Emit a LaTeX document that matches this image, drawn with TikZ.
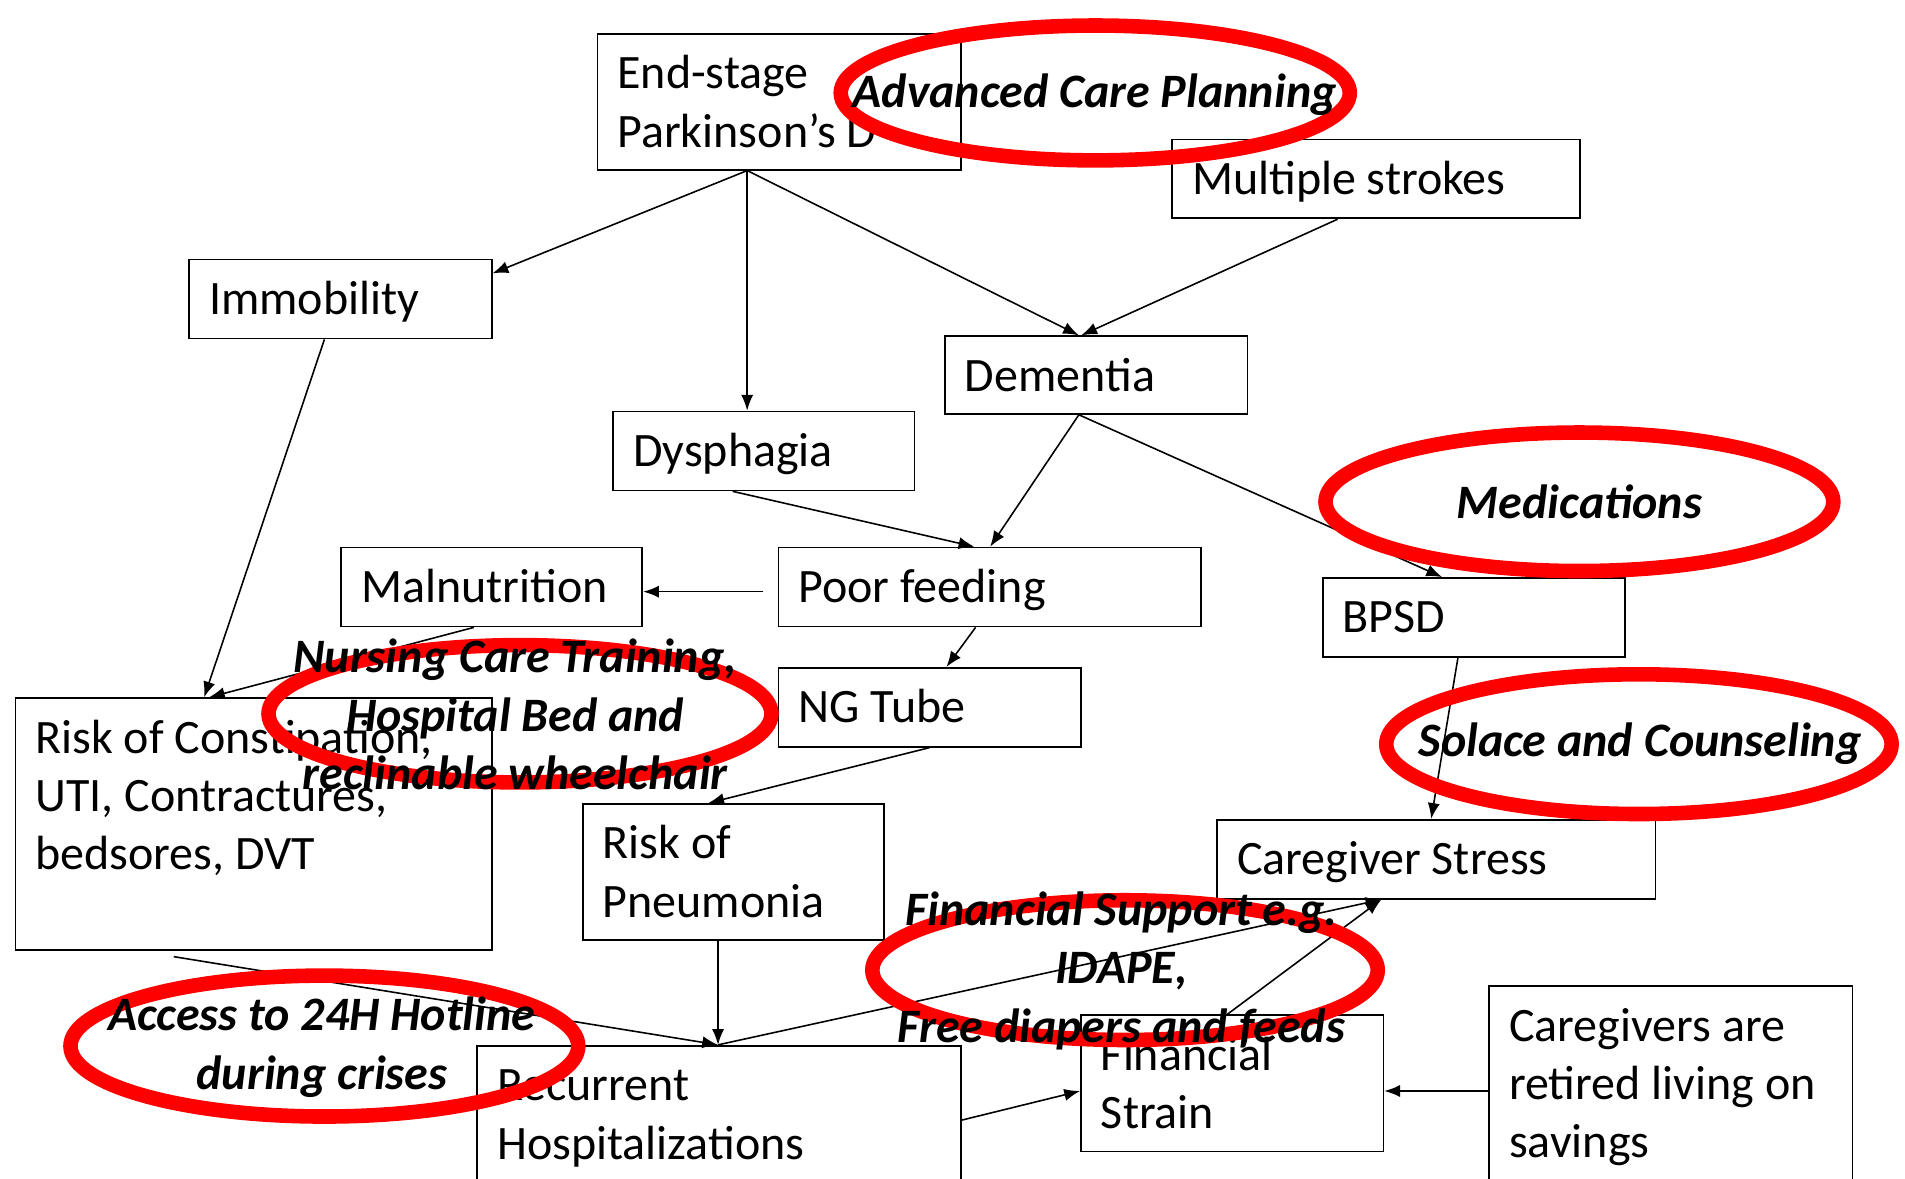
\documentclass[tikz,border=0pt]{standalone}
\usepackage{fontspec}
\setmainfont{Carlito}
\usetikzlibrary{arrows.meta,calc,shapes.geometric}
\definecolor{ringred}{RGB}{255,0,0}
\begin{document}
\begin{tikzpicture}[x=1pt,y=-1pt,
  box/.style={draw=black, line width=1.4pt, rectangle, inner sep=0pt, anchor=north west},
  btxt/.style={anchor=base west, inner sep=0pt, align=left, font=\fontsize{39.5}{48}\selectfont},
  ring/.style={draw=ringred, line width=12pt, ellipse, inner sep=0pt},
  ltxt/.style={align=center, inner sep=0pt, font=\fontsize{39.5}{48}\selectfont\bfseries\itshape},
  arr/.style={line width=1.3pt, -{Latex[length=13pt,width=10pt]}}
]
\fill[white] (0,0) rectangle (1568,970);
\useasboundingbox (0,0) rectangle (1568,970);

% boxes
\node[box, minimum width=299pt, minimum height=112pt] (esp) at (491,27) {};
\node[box, minimum width=336pt, minimum height=65pt] (ms) at (964,114) {};
\node[box, minimum width=249pt, minimum height=65pt] (imm) at (155,213) {};
\node[box, minimum width=249pt, minimum height=64pt] (dem) at (777,276) {};
\node[box, minimum width=248pt, minimum height=65pt] (dys) at (504,338) {};
\node[box, minimum width=248pt, minimum height=65pt] (mal) at (280,450) {};
\node[box, minimum width=348pt, minimum height=65pt] (pf) at (640,450) {};
\node[box, minimum width=249pt, minimum height=65pt] (bpsd) at (1088,475) {};
\node[box, minimum width=249pt, minimum height=65pt] (ng) at (640,549) {};
\node[box, minimum width=392pt, minimum height=207pt] (rc) at (12,574) {};
\node[box, minimum width=248pt, minimum height=112pt] (rp) at (479,661) {};
\node[box, minimum width=361pt, minimum height=65pt] (cs) at (1001,674) {};
\node[box, minimum width=398pt, minimum height=130pt] (rh) at (392,860) {};
\node[box, minimum width=249pt, minimum height=112pt] (fs) at (889,835) {};
\node[box, minimum width=299pt, minimum height=180pt] (cr) at (1225,811) {};

% box texts (base anchor = baseline of last line)
\node[btxt] (esp-t) at ($(esp.north west)+(17,94)$) {End-stage\\Parkinson’s D};
\node[btxt] (ms-t) at ($(ms.north west)+(17,46)$) {Multiple strokes};
\node[btxt] (imm-t) at ($(imm.north west)+(17,46)$) {Immobility};
\node[btxt] (dem-t) at ($(dem.north west)+(17,46)$) {Dementia};
\node[btxt] (dys-t) at ($(dys.north west)+(17,46)$) {Dysphagia};
\node[btxt] (mal-t) at ($(mal.north west)+(17,46)$) {Malnutrition};
\node[btxt] (pf-t) at ($(pf.north west)+(17,46)$) {Poor feeding};
\node[btxt] (bpsd-t) at ($(bpsd.north west)+(17,46)$) {BPSD};
\node[btxt] (ng-t) at ($(ng.north west)+(17,46)$) {NG Tube};
\node[btxt] (rc-t) at ($(rc.north west)+(17,142)$) {Risk of Constipation,\\UTI, Contractures,\\bedsores, DVT};
\node[btxt] (rp-t) at ($(rp.north west)+(17,94)$) {Risk of\\Pneumonia};
\node[btxt] (cs-t) at ($(cs.north west)+(17,46)$) {Caregiver Stress};
\node[btxt] (rh-t) at ($(rh.north west)+(17,94)$) {Recurrent\\Hospitalizations};
\node[btxt] (fs-t) at ($(fs.north west)+(17,94)$) {Financial\\Strain};
\node[btxt] (cr-t) at ($(cr.north west)+(17,142)$) {Caregivers are\\retired living on\\savings};

% connectors
\draw[arr] ($(esp.south west)+(124,0)$) -- ($(imm.north east)+(0,12)$);
\draw[arr] ($(esp.south west)+(124,0)$) -- ($(dys.north west)+(111,0)$);
\draw[arr] ($(esp.south west)+(124,0)$) -- ($(dem.north west)+(111,0)$);
\draw[arr] ($(ms.south west)+(137,0)$) -- ($(dem.north west)+(113,0)$);
\draw[arr] ($(dem.south west)+(111,0)$) -- ($(pf.north west)+(175,0)$);
\draw[arr] ($(dem.south west)+(111,0)$) -- ($(bpsd.north west)+(99,0)$);
\draw[arr] ($(dys.south west)+(99,0)$) -- ($(pf.north west)+(162,0)$);
\draw[arr] ($(pf.north west)+(-12,37)$) -- ($(mal.north east)+(0,37)$);
\draw[arr] ($(pf.south west)+(163,0)$) -- ($(ng.north west)+(139,0)$);
\draw[arr] ($(imm.south west)+(112,0)$) -- ($(rc.north west)+(156,0)$);
\draw[arr] ($(mal.south west)+(110,0)$) -- ($(rc.north west)+(160,0)$);
\draw[arr] ($(ng.south west)+(125,0)$) -- ($(rp.north west)+(104,0)$);
\draw[arr] ($(rp.south west)+(112,0)$) -- ($(rh.north west)+(199,0)$);
\draw[arr] ($(rc.south west)+(131,5)$) -- ($(rh.north west)+(199,0)$);
\draw[arr] ($(rh.north west)+(199,0)$) -- ($(cs.south west)+(136,0)$);
\draw[arr] ($(fs.north west)+(121,0)$) -- ($(cs.south west)+(136,0)$);
\draw[arr] ($(rh.north east)+(0,62)$) -- ($(fs.north west)+(0,63)$);
\draw[arr] ($(cr.north west)+(0,87)$) -- ($(fs.north east)+(0,63)$);
\draw[arr] ($(bpsd.south west)+(112,0)$) -- ($(cs.north west)+(177,0)$);

% red rings
\node[ring, minimum width=419pt, minimum height=111pt] (acp) at (901.5,76.5) {};
\node[ring, minimum width=418pt, minimum height=114pt] (med) at (1300,413) {};
\node[ring, minimum width=416pt, minimum height=115pt] (sol) at (1349,612.5) {};
\node[ring, minimum width=414pt, minimum height=113pt] (nct) at (428,587.5) {};
\node[ring, minimum width=416pt, minimum height=115pt] (fin) at (926,798.5) {};
\node[ring, minimum width=418pt, minimum height=116pt] (acc) at (267,861) {};

% ring labels
\node[ltxt] (acp-t) at (901,78) {Advanced Care Planning};
\node[ltxt] (med-t) at (1300,413) {Medications};
\node[ltxt] (sol-t) at (1350,612) {Solace and Counseling};
\node[ltxt] (nct-t) at (424,588) {Nursing Care Training,\\Hospital Bed and\\reclinable wheelchair};
\node[ltxt] (fin-t) at (923,799) {Financial Support e.g.\\IDAPE,\\Free diapers and feeds};
\node[ltxt] (acc-t) at (265,862) {Access to 24H Hotline\\during crises};
\end{tikzpicture}
\end{document}
